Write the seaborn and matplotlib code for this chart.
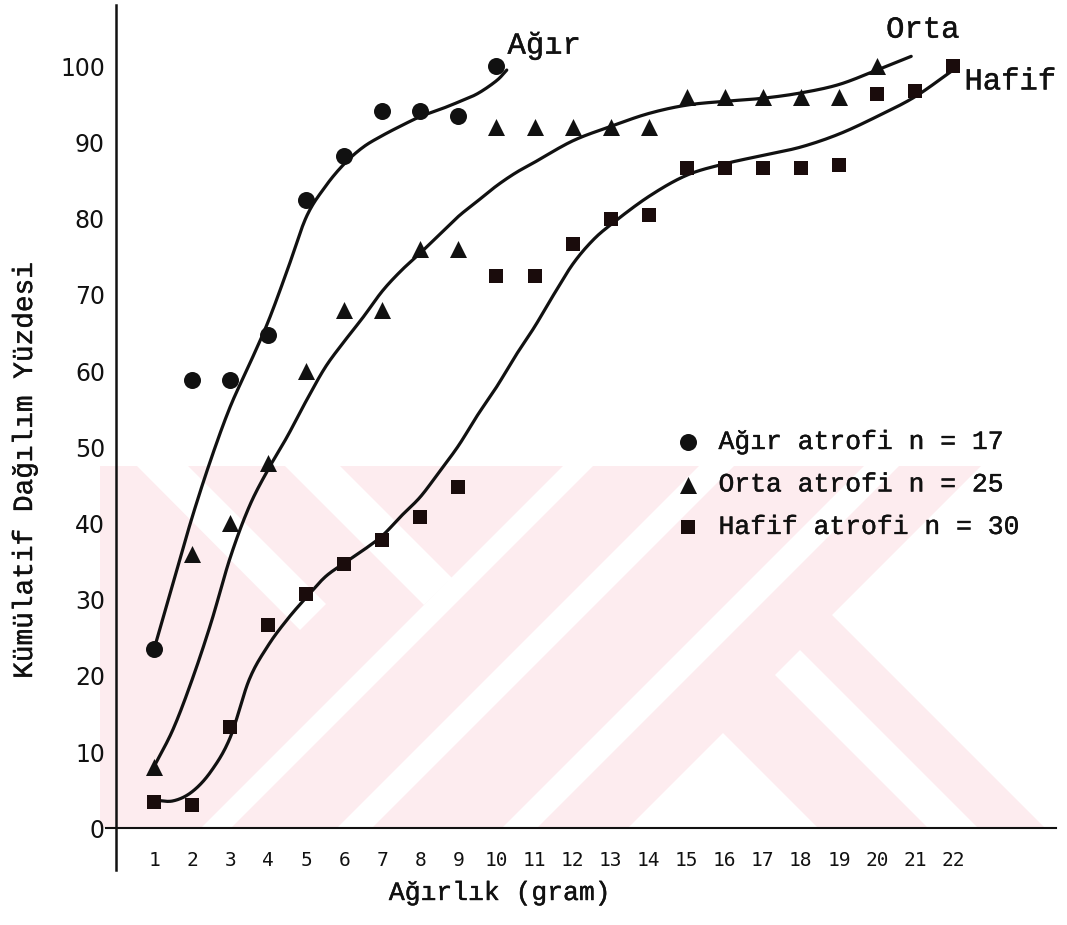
import numpy as np
import pandas as pd
import matplotlib
matplotlib.use("Agg")
import matplotlib.pyplot as plt
import matplotlib.patheffects as pe
from matplotlib.patches import Polygon
import seaborn as sns

# ---------------- data ----------------
x_agir = [1, 2, 3, 4, 5, 6, 7, 8, 9, 10]
y_agir = [23.5, 58.8, 58.8, 64.7, 82.4, 88.2, 94.1, 94.1, 93.5, 100]

x_orta = list(range(1, 21))
y_orta = [8, 36, 40, 48, 60, 68, 68, 76, 76, 92, 92, 92, 92, 92,
          96, 96, 96, 96, 96, 100]

x_hafif = list(range(1, 23))
y_hafif = [3.5, 3.1, 13.3, 26.7, 30.7, 34.7, 37.8, 40.9, 44.8, 72.5, 72.5,
           76.7, 80, 80.5, 86.7, 86.7, 86.7, 86.7, 87, 96.3, 96.7, 100]

# hand-drawn fitted curves (knots)
agir_curve_x = [1, 1.5, 2, 2.5, 3, 3.5, 4, 4.5, 5, 5.5, 6, 6.5, 7, 7.5, 8, 8.5, 9, 9.5,
                10, 10.27]
agir_curve_y = [23.5, 32.2, 40.8, 48.5, 55.3, 60.8, 66.5, 73.2, 80.2, 84.2, 87.2, 89.4, 90.9,
                92.2, 93.4, 94.3, 95.3, 96.4, 98.1, 99.5]

orta_curve_x = [1, 1.5, 2, 2.5, 3, 3.5, 4, 4.5, 5, 5.5, 6, 6.5, 7, 7.5, 8, 8.5, 9, 9.5, 10,
                10.5, 11, 12, 13, 14, 15, 16, 17, 18, 19, 20, 20.9]
orta_curve_y = [8.1, 13, 19.5, 27, 35.5, 42.2, 47.1, 51.4, 56.1, 60.5, 63.9, 67.1, 70.5, 73.2,
                75.5, 77.9, 80.3, 82.3, 84.3, 86, 87.4, 90.2, 92.1, 93.8, 94.9, 95.4, 95.8,
                96.5, 97.6, 99.5, 101.3]

hafif_curve_x = [1, 1.5, 2, 2.5, 3, 3.5, 4, 4.5, 5, 5.5, 6, 6.5, 7, 7.5, 8, 8.5, 9, 9.5, 10,
                 10.5, 11, 11.5, 12, 12.5, 13, 14, 15, 16, 17, 18, 19, 20, 21, 22]
hafif_curve_y = [3.7, 3.6, 4.8, 7.5, 11.9, 19.5, 24.0, 27.4, 30.3, 33.0, 34.8, 36.5, 38.4, 41,
                 43.5, 46.8, 50.2, 54.2, 57.9, 62, 65.8, 70, 74, 77, 79.2, 82.9, 85.7, 87.2,
                 88.3, 89.4, 91.1, 93.4, 96, 99.5]

y_ticks = [0, 10, 20, 30, 40, 50, 60, 70, 80, 90, 100]
x_ticks = list(range(1, 23))

legend_labels = ["Ağır atrofi n = 17", "Orta atrofi n = 25", "Hafif atrofi n = 30"]
curve_labels = ["Ağır", "Orta", "Hafif"]
x_label = "Ağırlık (gram)"
y_label = "Kümülatif Dağılım Yüzdesi"

W, H = 1067, 925


def smooth(xs, ys, n=20):
    """Catmull-Rom rendering of a hand-drawn curve through its knots."""
    p = np.column_stack([xs, ys]).astype(float)
    p = np.vstack([2 * p[0] - p[1], p, 2 * p[-1] - p[-2]])
    out = []
    t = np.linspace(0, 1, n, endpoint=False)[:, None]
    for i in range(1, len(p) - 2):
        p0, p1, p2, p3 = p[i - 1], p[i], p[i + 1], p[i + 2]
        seg = 0.5 * ((2 * p1) + (-p0 + p2) * t + (2 * p0 - 5 * p1 + 4 * p2 - p3) * t ** 2
                     + (-p0 + 3 * p1 - 3 * p2 + p3) * t ** 3)
        out.append(seg)
    out.append(p[-2][None, :])
    out = np.vstack(out)
    return pd.DataFrame({"x": out[:, 0], "y": out[:, 1]})


sns.set_style("white")
plt.rcParams["font.family"] = ["Liberation Mono", "DejaVu Sans Mono"]

fig = plt.figure(figsize=(10.67, 9.25), dpi=100)
ax = fig.add_axes([0.0998, 0.0592, 0.8897, 0.9351])
ax.set_facecolor("none")


# ---- pale watermark of the scanned page (pixel geometry) ----
def fig_poly(pts, color):
    xy = [(px / W, 1 - py / H) for px, py in pts]
    fig.add_artist(Polygon(xy, closed=True, transform=fig.transFigure,
                           facecolor=color, edgecolor="none", zorder=-5))


pink = "#fdecef"
fig_poly([(100, 466), (981, 466), (832, 615), (1045, 828), (100, 828)], pink)
for pts in [
    [(137, 466), (188, 466), (326, 604), (300, 630)],
    [(285, 466), (340, 466), (452, 578), (424, 605)],
    [(563, 466), (593, 466), (231, 828), (201, 828)],
    [(699, 466), (734, 466), (372, 828), (337, 828)],
    [(864, 466), (899, 466), (537, 828), (502, 828)],
    [(723, 733), (818, 828), (628, 828)],
    [(775, 675), (800, 650), (978, 828), (928, 828)],
]:
    fig_poly(pts, "white")

ink = "#111111"
for cx, cy in [(agir_curve_x, agir_curve_y), (orta_curve_x, orta_curve_y),
               (hafif_curve_x, hafif_curve_y)]:
    d = smooth(cx, cy)
    sns.lineplot(data=d, x="x", y="y", sort=False, estimator=None, color=ink,
                 linewidth=2.3, ax=ax)

h1 = ax.scatter(x_agir, y_agir, s=150, marker="o", color=ink, zorder=3, linewidths=0)
h2 = ax.scatter(x_orta, y_orta, s=150, marker="^", color=ink, zorder=3, linewidths=0)
h3 = ax.scatter(x_hafif, y_hafif, s=110, marker="s", color="#1a0c0c", zorder=3, linewidths=0)

ax.set_xlim(-0.25, 24.7)
ax.set_ylim(-5.5, 108)
ax.spines["left"].set_position(("data", 0))
ax.spines["bottom"].set_position(("data", 0))
ax.spines["top"].set_visible(False)
ax.spines["right"].set_visible(False)
ax.spines["left"].set_linewidth(1.8)
ax.spines["bottom"].set_linewidth(1.5)
ax.spines["left"].set_color(ink)
ax.spines["bottom"].set_color(ink)

ax.set_yticks(y_ticks)
ax.set_yticklabels([str(v) for v in y_ticks], family="DejaVu Sans", fontsize=17)
ax.set_xticks(x_ticks)
ax.set_xticklabels([str(v) for v in x_ticks], family="DejaVu Sans Mono", fontsize=14)
ax.tick_params(axis="y", direction="inout", length=12, width=1.8, pad=2, colors=ink)
ax.tick_params(axis="x", direction="inout", length=8, width=1.5, pad=12, colors=ink)

thick = [pe.withStroke(linewidth=0.3, foreground=ink)]
ax.set_xlabel("")
ax.set_ylabel("")
fig.text(500 / W, 1 - 893 / H, x_label, fontsize=19, ha="center", va="center", color=ink,
         path_effects=thick)
fig.text(25 / W, 1 - 471 / H, y_label, fontsize=20, ha="center", va="center",
         rotation=90, color=ink, path_effects=thick)

ax.text(11.25, 102.7, curve_labels[0], fontsize=22, ha="center", va="center", color=ink,
        path_effects=thick)
ax.text(21.2, 104.8, curve_labels[1], fontsize=22, ha="center", va="center", color=ink,
        path_effects=thick)
ax.text(22.3, 98.0, curve_labels[2], fontsize=22, ha="left", va="center", color=ink,
        path_effects=thick)

leg = ax.legend([h1, h2, h3], legend_labels, loc="upper left",
                bbox_to_anchor=(675 / W, 1 - 430 / H), bbox_transform=fig.transFigure,
                frameon=False, fontsize=19, handlelength=1.0, handletextpad=0.65,
                labelspacing=0.70, borderpad=0, borderaxespad=0)
for t in leg.get_texts():
    t.set_color(ink)
    t.set_path_effects(thick)

fig.savefig("out.png", dpi=100)
